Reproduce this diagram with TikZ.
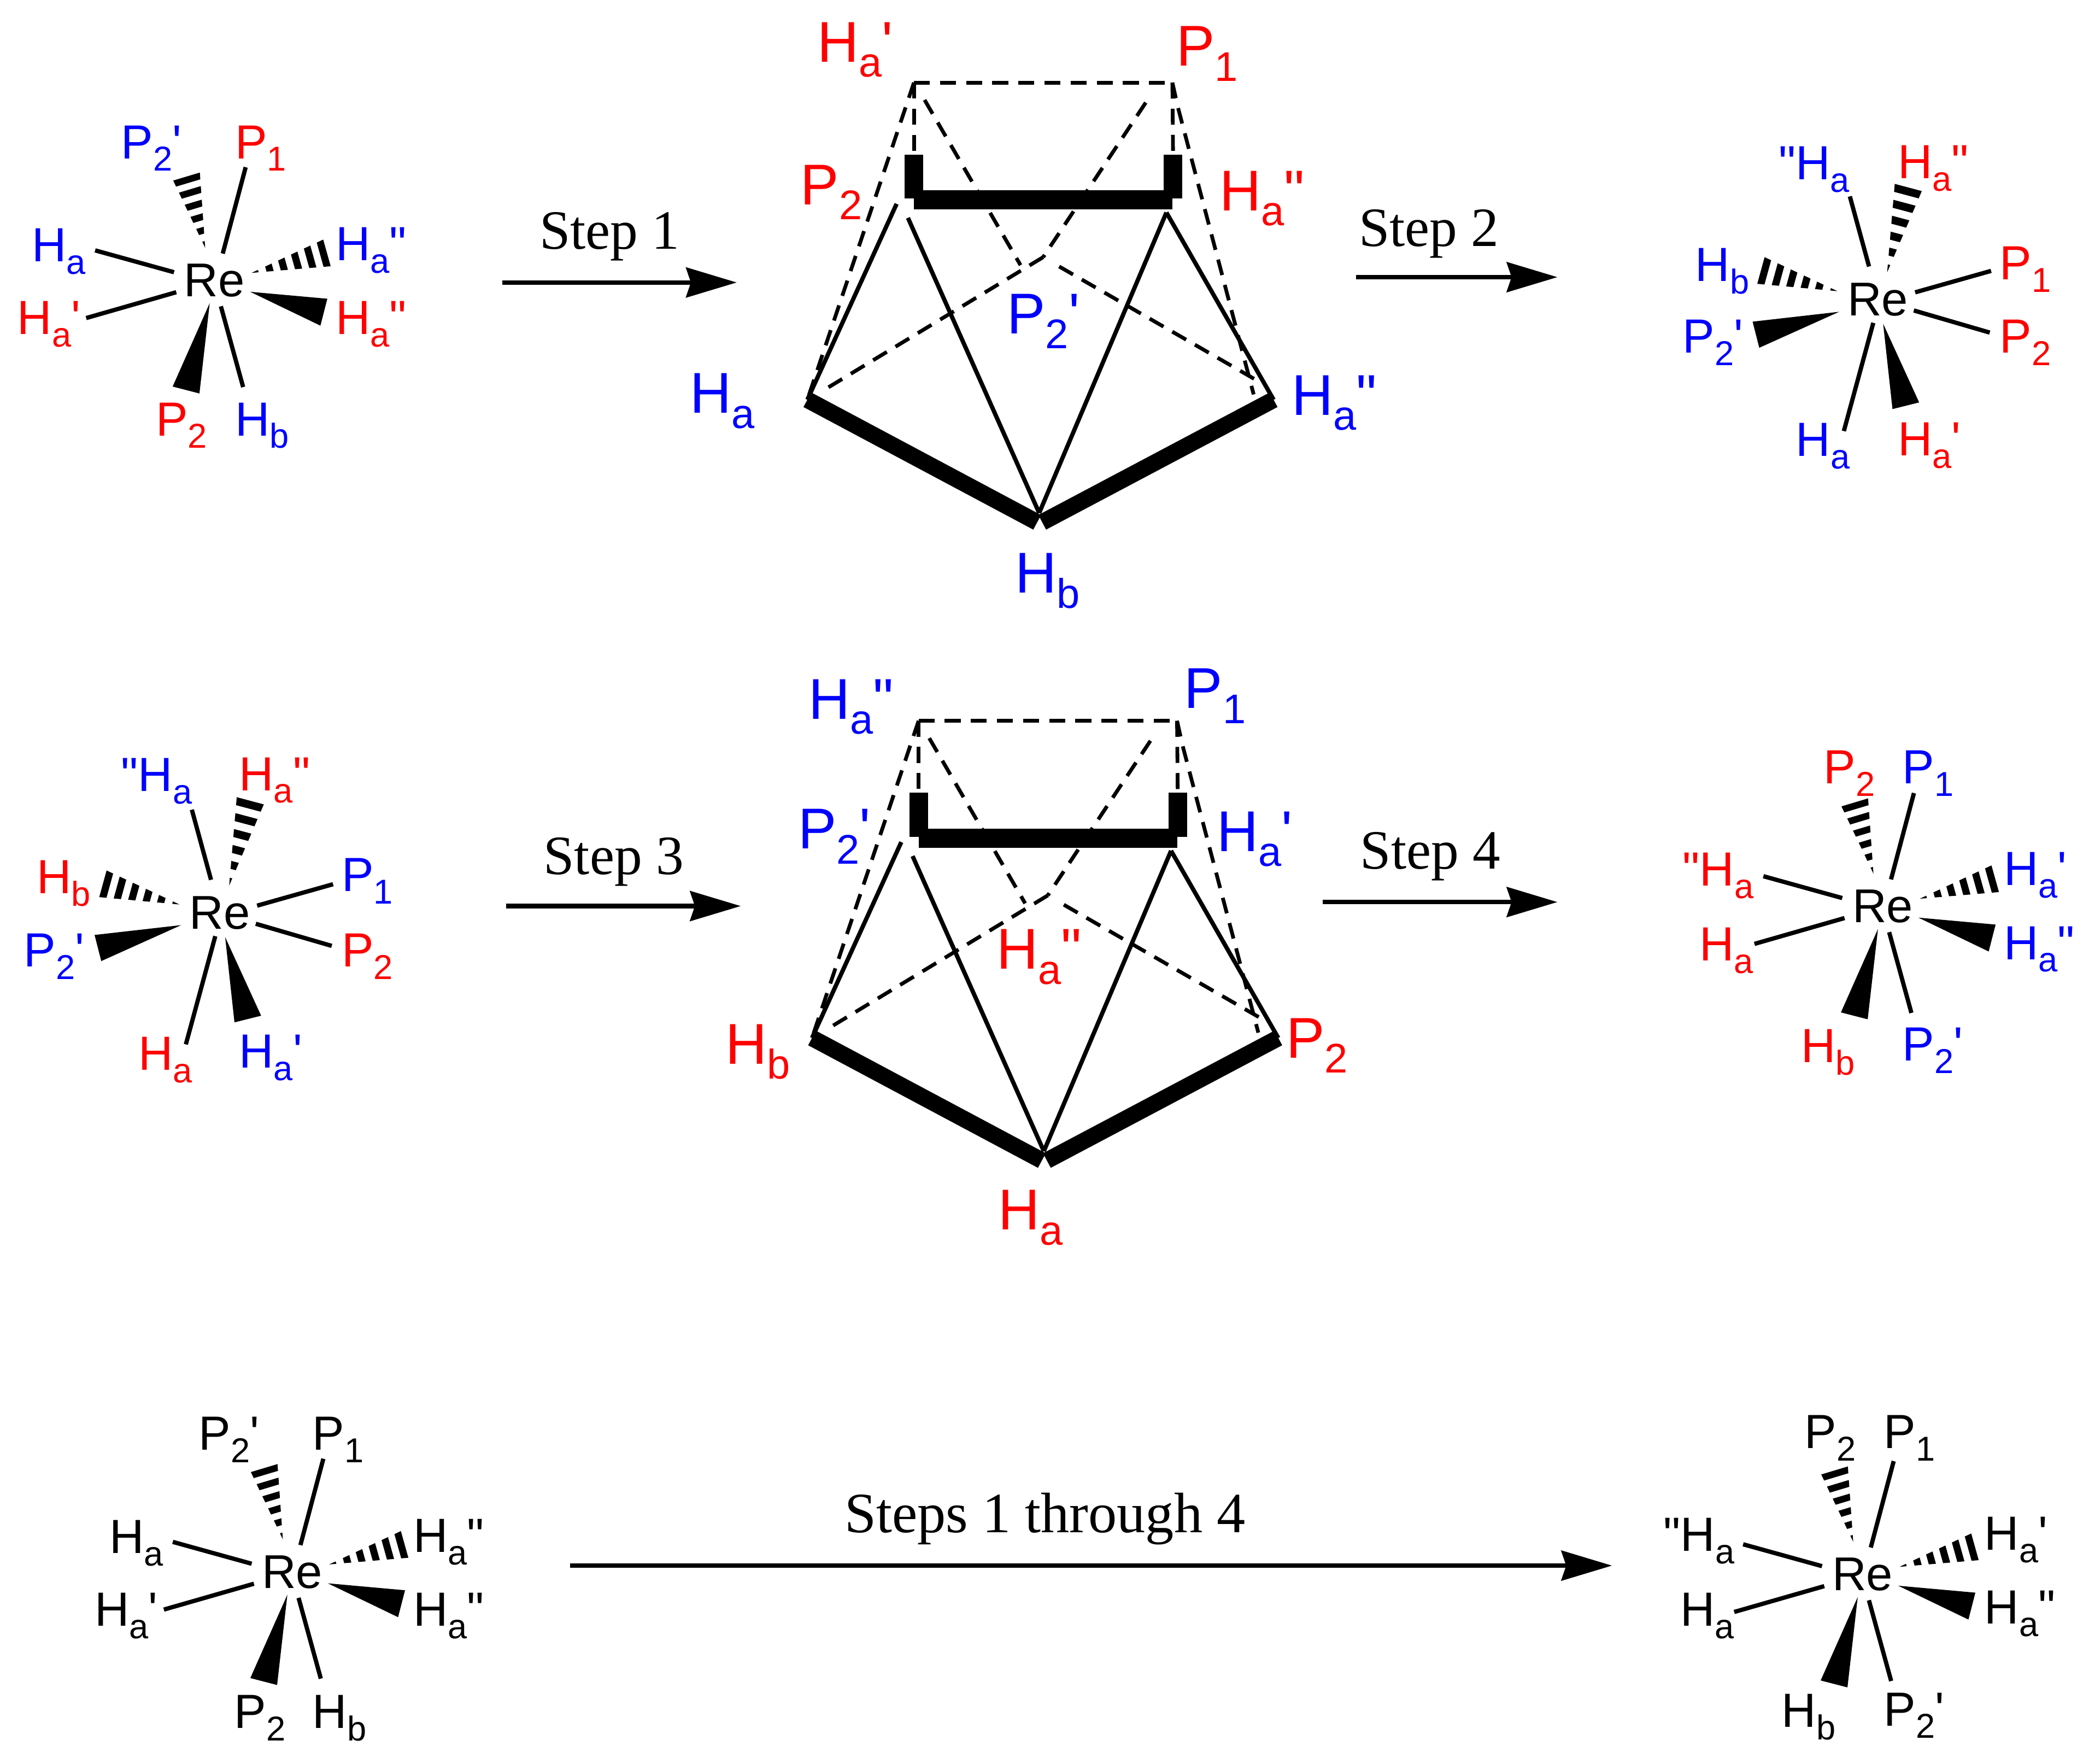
\documentclass[tikz,border=0pt]{standalone}
\usepackage{fontspec}
\usepackage{graphicx}
\usetikzlibrary{calc,arrows.meta}
\newfontfamily\arl{Liberation Sans}
\newfontfamily\tms{Liberation Serif}
\definecolor{lred}{RGB}{255,0,0}
\definecolor{lblue}{RGB}{0,0,255}
\tikzset{
  x=0.25pt,y=-0.25pt,
  lab/.style={anchor=base west,inner sep=0pt,outer sep=0pt,font=\fontsize{9}{11}\arl},
  big/.style={anchor=base west,inner sep=0pt,outer sep=0pt,font=\fontsize{10.8}{13}\arl},
  relab/.style={inner sep=0pt,outer sep=0pt,font=\fontsize{8.9}{11}\arl},
  steplab/.style={anchor=base west,inner sep=0pt,outer sep=0pt,font=\fontsize{10.4}{12}\tms},
  longlab/.style={anchor=base west,inner sep=0pt,outer sep=0pt,font=\fontsize{10.7}{12}\tms},
  bond/.style={line width=0.8pt,line cap=butt},
  thin line/.style={line width=0.8pt},
  tick bar/.style={line width=3.5pt,line cap=butt},
  top bar/.style={line width=3.6pt,line cap=butt},
  low bar/.style={line width=3.1pt,line cap=butt},
  dash line/.style={line width=0.7pt,dash pattern=on 3pt off 1.9pt},
  rxn/.style={line width=0.85pt,-{Stealth[length=9.5pt,width=5.6pt,inset=0.9pt]}},
}
\newcommand{\sbs}[1]{\raisebox{-.26em}{\scalebox{.72}{#1}}}
\newcommand{\Ha}{H\sbs{a}}
\newcommand{\Hb}{H\sbs{b}}
\newcommand{\Pa}{P\sbs{1}}
\newcommand{\Pb}{P\sbs{2}}
\newcommand{\hashw}[3]{%
  \foreach \hb in {0.0,0.19,0.37,0.55,0.73,0.91}{%
    \fill ($(#1)!\hb!(#2)$) -- ($(#1)!{\hb+0.09}!(#2)$) -- ($(#1)!{\hb+0.09}!(#3)$) -- ($(#1)!\hb!(#3)$) -- cycle;}}
% type one: two plain bonds left, wedges right
\newcommand{\octone}[3]{%
  \node[relab] (#1) at (#2,#3) {Re};
  \begin{scope}[shift={(#2,#3)}]
    \coordinate (a1) at (6.2,-20.2);  \coordinate (a2) at (23.4,-85);
    \coordinate (b1) at (-30.4,-6.2); \coordinate (b2) at (-89.6,-22.6);
    \coordinate (c1) at (-28.7,8.8);  \coordinate (c2) at (-96.3,28.2);
    \coordinate (d1) at (4.8,19.4);   \coordinate (d2) at (21.5,80);
    \coordinate (w1) at (-3.6,17);    \coordinate (w2) at (-31.4,79.6); \coordinate (w3) at (-11.3,84.8);
    \coordinate (v1) at (26.8,8.5);   \coordinate (v2) at (84.7,13.7);  \coordinate (v3) at (79.5,33.9);
    \coordinate (h1) at (-7,-24.5);   \coordinate (h2) at (-31,-75);    \coordinate (h3) at (-11,-81);
    \coordinate (k1) at (27.8,-5.7);  \coordinate (k2) at (81.6,-30.7); \coordinate (k3) at (87.2,-10.7);
    \draw[bond] (a1) -- (a2);
    \draw[bond] (b1) -- (b2);
    \draw[bond] (c1) -- (c2);
    \draw[bond] (d1) -- (d2);
    \fill (w1) -- (w2) -- (w3) -- cycle;
    \fill (v1) -- (v2) -- (v3) -- cycle;
    \hashw{h1}{h2}{h3}
    \hashw{k1}{k2}{k3}
  \end{scope}}
% type two: plain bonds right, wedges left
\newcommand{\octtwo}[3]{%
  \node[relab] (#1) at (#2,#3) {Re};
  \begin{scope}[shift={(#2,#3)}]
    \coordinate (a1) at (-6.6,-25);   \coordinate (a2) at (-21,-77.6);
    \coordinate (b1) at (28,-5.6);    \coordinate (b2) at (85,-21.7);
    \coordinate (c1) at (27,8);       \coordinate (c2) at (84,24.6);
    \coordinate (d1) at (-3.4,17.3);  \coordinate (d2) at (-25.5,98.5);
    \coordinate (w1) at (4,18);       \coordinate (w2) at (11,82);      \coordinate (w3) at (31,77);
    \coordinate (v1) at (-29,9);      \coordinate (v2) at (-94,16.4);   \coordinate (v3) at (-89,36);
    \coordinate (h1) at (7,-20.6);    \coordinate (h2) at (12.7,-87);   \coordinate (h3) at (33,-81.6);
    \coordinate (k1) at (-30.3,-6.5); \coordinate (k2) at (-85,-32);    \coordinate (k3) at (-90.5,-12);
    \draw[bond] (a1) -- (a2);
    \draw[bond] (b1) -- (b2);
    \draw[bond] (c1) -- (c2);
    \draw[bond] (d1) -- (d2);
    \fill (w1) -- (w2) -- (w3) -- cycle;
    \fill (v1) -- (v2) -- (v3) -- cycle;
    \hashw{h1}{h2}{h3}
    \hashw{k1}{k2}{k3}
  \end{scope}}
\newcommand{\prism}[2]{%
  \begin{scope}[shift={(#1,#2)}]
    \coordinate (A) at (686,62);    \coordinate (B) at (880,62);
    \coordinate (Aa) at (694,75);   \coordinate (Bk) at (884,80);
    \coordinate (Al) at (686,116);  \coordinate (Bl) at (880.5,116);
    \coordinate (Ab) at (686,149);  \coordinate (Bb) at (880.5,149);
    \coordinate (Bl0) at (686,150); \coordinate (Br0) at (880,150);
    \coordinate (L) at (606,300);   \coordinate (R) at (956,300);
    \coordinate (M) at (780,385);   \coordinate (Ml) at (778.5,392); \coordinate (Mr) at (782.3,392);
    \coordinate (Ca) at (766,199);  \coordinate (Ce) at (783,193);
    \coordinate (Bc) at (860,77);   \coordinate (Ls) at (618,293);
    \coordinate (Cr) at (795,200);  \coordinate (Rs) at (946,287);
    \coordinate (Rd) at (941,296);
    \coordinate (S1) at (673,153);  \coordinate (S2) at (681.5,163.5);
    \coordinate (S3) at (875.5,159.5);
    \draw[dash line] (A) -- (B);
    \draw[dash line] (A) -- (L);
    \draw[dash line] (A) -- (Al);
    \draw[dash line] (Aa) -- (Ca);
    \draw[dash line] (Bc) -- (Ce);
    \draw[dash line] (Ce) -- (Ls);
    \draw[dash line] (Cr) -- (Rs);
    \draw[dash line] (B) -- (Bk) -- (Rd);
    \draw[dash line] (B) -- (Bl);
    \draw[thin line] (S1) -- (L);
    \draw[thin line] (S2) -- (M);
    \draw[thin line] (S3) -- (M);
    \draw[thin line] (S3) -- (R);
    \draw[tick bar] (Al) -- (Ab);
    \draw[tick bar] (Bl) -- (Bb);
    \draw[top bar] (Bl0) -- (Br0);
    \draw[low bar] (L) -- (Ml);
    \draw[low bar] (R) -- (Mr);
  \end{scope}}
\begin{document}
\begin{tikzpicture}
\useasboundingbox (0,0) rectangle (1568,1323.5);
\fill[white] (0,0) rectangle (1568,1323.5);

% --- molecules
\octone{m1}{161}{210.5}
\octtwo{m2}{1409.5}{225}
\octtwo{m3}{165}{685.3}
\octone{m4}{1413.2}{680.2}
\octone{m5}{219.3}{1179.8}
\octone{m6}{1398}{1181.6}
\prism{0}{0}
\prism{3.5}{479}

% --- molecule 1
\node[lab,lblue] (t1) at (91,119) {\Pb'};
\node[lab,lred]  (t2) at (176.5,119) {\Pa};
\node[lab,lblue] (t3) at (24,196.5) {\Ha};
\node[lab,lred]  (t4) at (13,251) {\Ha'};
\node[lab,lblue] (t5) at (252,195.5) {\Ha"};
\node[lab,lred]  (t6) at (252,251) {\Ha"};
\node[lab,lred]  (t7) at (117,327) {\Pb};
\node[lab,lblue] (t8) at (176.5,327) {\Hb};

% --- prism 1
\node[big,lred]  (u1) at (613.5,46.6) {\Ha'};
\node[big,lred]  (u2) at (883,49.6) {\Pa};
\node[big,lred]  (u3) at (601,153.5) {\Pb};
\node[big,lred]  (u4) at (915.5,158) {\Ha"};
\node[big,lblue] (u5) at (756,250.4) {\Pb'};
\node[big,lblue] (u6) at (518,310) {\Ha};
\node[big,lblue] (u7) at (969.5,311.4) {\Ha"};
\node[big,lblue] (u8) at (762,445) {\Hb};

% --- molecule 2
\node[lab,lblue] (v1t) at (1335,134.8) {"\Ha};
\node[lab,lred]  (v2t) at (1424.5,134) {\Ha"};
\node[lab,lblue] (v3t) at (1272.5,211) {\Hb};
\node[lab,lred]  (v4t) at (1501,210) {\Pa};
\node[lab,lblue] (v5t) at (1263,265) {\Pb'};
\node[lab,lred]  (v6t) at (1501,265) {\Pb};
\node[lab,lblue] (v7t) at (1348,342.5) {\Ha};
\node[lab,lred]  (v8t) at (1424.5,342) {\Ha'};

% --- molecule 3
\node[lab,lblue] (w1t) at (91,594) {"\Ha};
\node[lab,lred]  (w2t) at (179.5,593.3) {\Ha"};
\node[lab,lred]  (w3t) at (27.5,670.6) {\Hb};
\node[lab,lblue] (w4t) at (256.5,669) {\Pa};
\node[lab,lblue] (w5t) at (18,725.6) {\Pb'};
\node[lab,lred]  (w6t) at (256.5,725.6) {\Pb};
\node[lab,lred]  (w7t) at (104,803) {\Ha};
\node[lab,lblue] (w8t) at (179.5,801.6) {\Ha'};

% --- prism 2
\node[big,lblue] (x1) at (607,539.7) {\Ha"};
\node[big,lblue] (x2) at (889,531.6) {\Pa};
\node[big,lblue] (x3) at (599,637) {\Pb'};
\node[big,lblue] (x4) at (913.5,639) {\Ha'};
\node[big,lred]  (x5) at (748,727.3) {\Ha"};
\node[big,lred]  (x6) at (544.5,798.5) {\Hb};
\node[big,lred]  (x7) at (965.5,794) {\Pb};
\node[big,lred]  (x8) at (749.5,923) {\Ha};

% --- molecule 4
\node[lab,lred]  (y1) at (1369,588) {\Pb};
\node[lab,lblue] (y2) at (1428,588) {\Pa};
\node[lab,lred]  (y3) at (1263,665) {"\Ha};
\node[lab,lblue] (y4) at (1504,664.5) {\Ha'};
\node[lab,lred]  (y5) at (1275.5,721) {\Ha};
\node[lab,lblue] (y6) at (1504,720) {\Ha"};
\node[lab,lred]  (y7) at (1352,797.5) {\Hb};
\node[lab,lblue] (y8) at (1428,796) {\Pb'};

% --- molecule 5
\node[lab] (z1) at (149.2,1088.3) {\Pb'};
\node[lab] (z2) at (234.6,1088.3) {\Pa};
\node[lab] (z3) at (82.2,1165.7) {\Ha};
\node[lab] (z4) at (71.1,1220.4) {\Ha'};
\node[lab] (z5) at (310.3,1164.8) {\Ha"};
\node[lab] (z6) at (310.3,1220.4) {\Ha"};
\node[lab] (z7) at (175.8,1297) {\Pb};
\node[lab] (z8) at (234.6,1297) {\Hb};

% --- molecule 6
\node[lab] (q1) at (1354.5,1087) {\Pb};
\node[lab] (q2) at (1414,1087) {\Pa};
\node[lab] (q3) at (1248.7,1164.3) {"\Ha};
\node[lab] (q4) at (1261.2,1220.4) {\Ha};
\node[lab] (q5) at (1489.6,1163.4) {\Ha'};
\node[lab] (q6) at (1489.6,1218.7) {\Ha"};
\node[lab] (q7) at (1337.4,1296.4) {\Hb};
\node[lab] (q8) at (1414,1295.2) {\Pb'};

% --- arrows
\coordinate (s1a) at (377,212);  \coordinate (s1b) at (553,212);
\coordinate (s2a) at (1018,208); \coordinate (s2b) at (1169,208);
\coordinate (s3a) at (380,680);  \coordinate (s3b) at (556,680);
\coordinate (s4a) at (993,677);  \coordinate (s4b) at (1169,677);
\coordinate (s5a) at (428,1175); \coordinate (s5b) at (1210,1175);
\draw[rxn] (s1a) -- (s1b);
\draw[rxn] (s2a) -- (s2b);
\draw[rxn] (s3a) -- (s3b);
\draw[rxn] (s4a) -- (s4b);
\draw[rxn] (s5a) -- (s5b);
\node[steplab] (l1) at (405,187) {Step 1};
\node[steplab] (l2) at (1020,185) {Step 2};
\node[steplab] (l3) at (408,656) {Step 3};
\node[steplab] (l4) at (1021,652) {Step 4};
\node[longlab] (l5) at (634,1150) {Steps 1 through 4};
\end{tikzpicture}
\end{document}
